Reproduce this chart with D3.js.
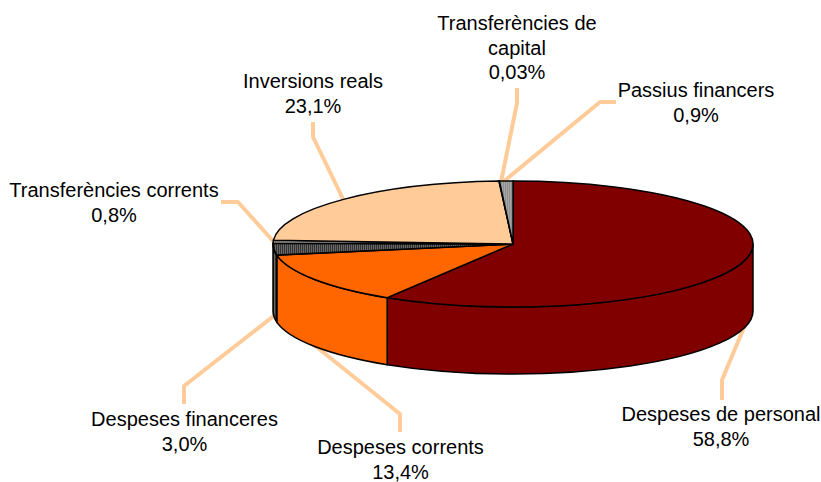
<!DOCTYPE html>
<html>
<head>
<meta charset="utf-8">
<script src="https://cdn.jsdelivr.net/npm/d3@7"></script>
<style>
  html, body { margin: 0; padding: 0; background: #fff; }
  text { font-family: "Liberation Sans", Arial, sans-serif; font-size: 20px; fill: #000; text-anchor: middle; }
</style>
</head>
<body>
<div id="chart"></div>
<script>
// Values, in drawing order (clockwise from 12 o'clock)
const categories = ['Despeses de personal', 'Despeses corrents', 'Despeses financeres',
  'Transferències corrents', 'Inversions reals', 'Transferències de capital', 'Passius financers'];
const shares = [58.8, 13.4, 3.0, 0.8, 23.1, 0.03, 0.9];
const shareLabels = ['58,8%', '13,4%', '3,0%', '0,8%', '23,1%', '0,03%', '0,9%'];

const fills = ['#800000', '#ff6600', 'url(#hatch)', 'url(#dots)', '#ffcc99', 'url(#dots)', 'url(#dots)'];

// Label placement: wrapped lines, centre x, first baseline, leader line
const labelLines = [
  ['Despeses de personal'], ['Despeses corrents'], ['Despeses financeres'],
  ['Transferències corrents'], ['Inversions reals'], ['Transferències de', 'capital'], ['Passius financers']
];
const labelPos = [[721, 421], [400.5, 454.4], [184.5, 426], [114, 197], [313, 88], [517, 30], [696, 97]];
const leaders = [
  [[745, 325], [722, 380], [722, 400]],
  [[313, 344], [400, 414], [400, 432]],
  [[275, 315], [184, 386], [184, 404]],
  [[273, 241], [238, 202], [221, 202]],
  [[344, 201], [313, 137], [313, 122]],
  [[501, 182], [517, 103], [517, 88]],
  [[503, 182], [600, 102], [616, 102]]
];

const width = 821;
const height = 482;
const cx = 513;
const cy = 244;
const rx = 240;
const ry = 63;
const depth = 67;

const svg = d3.select('#chart').append('svg')
  .attr('width', width)
  .attr('height', height)
  .style('display', 'block');

// Office style pattern fills
const defs = svg.append('defs');
const hatch = defs.append('pattern').attr('id', 'hatch')
  .attr('patternUnits', 'userSpaceOnUse').attr('width', 2).attr('height', 2);
hatch.append('rect').attr('width', 2).attr('height', 2).attr('fill', '#333');
hatch.append('rect').attr('width', 1).attr('height', 2).attr('fill', '#666');
const dots = defs.append('pattern').attr('id', 'dots')
  .attr('patternUnits', 'userSpaceOnUse').attr('width', 2).attr('height', 2);
dots.append('rect').attr('width', 2).attr('height', 2).attr('fill', '#a6a6a6');
dots.append('rect').attr('width', 1).attr('height', 1).attr('fill', '#777');

const pie = d3.pie().sort(null).value(d => d);
const slices = pie(shares);

// point on the tilted rim, angle measured clockwise from 12 o'clock
function rim(a, dy) {
  return [cx + rx * Math.sin(a), cy - ry * Math.cos(a) + dy];
}

// Side wall of a slice, only the part facing the viewer (90deg to 270deg)
function sidePath(s) {
  const a0 = Math.max(s.startAngle, Math.PI / 2);
  const a1 = Math.min(s.endAngle, Math.PI * 1.5);
  if (a1 <= a0) return null;
  const p0 = rim(a0, 0), p1 = rim(a1, 0), q1 = rim(a1, depth), q0 = rim(a0, depth);
  return `M${p0}A${rx},${ry} 0 0 1 ${p1}L${q1}A${rx},${ry} 0 0 0 ${q0}Z`;
}

// Leader lines go under the pie
const leaderLine = d3.line();
svg.append('g').selectAll('path')
  .data(leaders)
  .enter().append('path')
  .attr('d', d => leaderLine(d))
  .attr('fill', 'none')
  .attr('stroke', '#ffcc99')
  .attr('stroke-width', 4)
  .attr('stroke-linejoin', 'round');

// Side walls
svg.append('g').selectAll('path')
  .data(slices.filter(s => sidePath(s)))
  .enter().append('path')
  .attr('d', sidePath)
  .attr('fill', d => fills[d.index])
  .attr('stroke', '#000')
  .attr('stroke-width', 1.5);

// Top face: a normal arc squashed vertically
const arc = d3.arc().innerRadius(0).outerRadius(rx);
svg.append('g')
  .attr('transform', `translate(${cx},${cy}) scale(1,${ry / rx})`)
  .selectAll('path')
  .data(slices)
  .enter().append('path')
  .attr('d', arc)
  .attr('fill', d => fills[d.index])
  .attr('stroke', '#000')
  .attr('stroke-width', 1.5)
  .attr('vector-effect', 'non-scaling-stroke');

// Labels
const lineStep = 24.6;
const labels = svg.append('g').selectAll('text')
  .data(categories)
  .enter().append('text')
  .attr('x', (d, i) => labelPos[i][0])
  .attr('y', (d, i) => labelPos[i][1]);

labels.each(function (d, i) {
  const lines = labelLines[i].concat(shareLabels[i]);
  d3.select(this).selectAll('tspan')
    .data(lines)
    .enter().append('tspan')
    .attr('x', labelPos[i][0])
    .attr('dy', (t, j) => j === 0 ? 0 : lineStep)
    .text(t => t);
});
</script>
</body>
</html>
